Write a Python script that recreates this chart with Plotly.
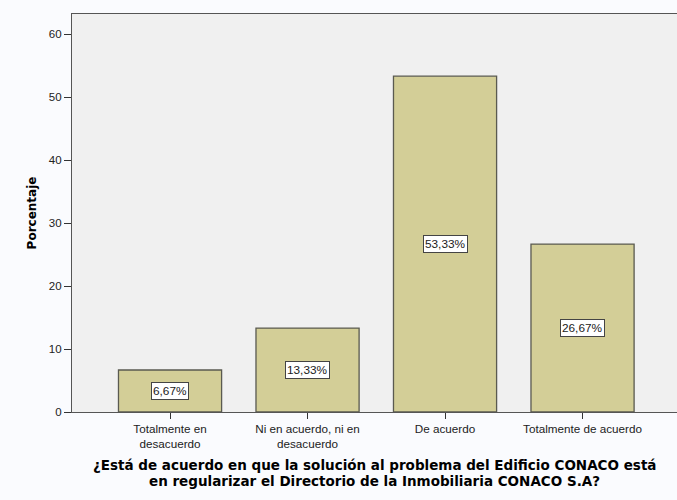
import plotly.graph_objects as go

# Response categories and their percentages
categories = [
    "Totalmente en<br>desacuerdo",
    "Ni en acuerdo, ni en<br>desacuerdo",
    "De acuerdo",
    "Totalmente de acuerdo",
]
percentages = [6.67, 13.33, 53.33, 26.67]
labels = ["6,67%", "13,33%", "53,33%", "26,67%"]
y_ticks = [0, 10, 20, 30, 40, 50, 60]
x_title = [
    "¿Está de acuerdo en que la solución al problema del Edificio CONACO está",
    "en regularizar el Directorio de la Inmobiliaria CONACO S.A?",
]

FONT = "Liberation Sans, Arial, sans-serif"
BOLD_FONT = "DejaVu Sans, Verdana, sans-serif"
BAR_COLOR = "#D3CE97"

fig = go.Figure()
fig.add_trace(go.Bar(
    x=list(range(len(categories))),
    y=percentages,
    marker=dict(color=BAR_COLOR, line=dict(color="#5a5a50", width=1.3)),
    width=0.75,
    hoverinfo="skip",
))

# Value boxes at mid-height of each bar
for i, (v, lab) in enumerate(zip(percentages, labels)):
    fig.add_annotation(
        x=i, y=v / 2, text=lab, showarrow=False,
        font=dict(family=FONT, size=11.8, color="#222"),
        bgcolor="white", bordercolor="#444", borderwidth=1, borderpad=1,
    )

# Two-line bold axis title, lines placed separately for tight spacing
for k, line in enumerate(x_title):
    fig.add_annotation(
        xref="paper", yref="paper", x=0.5, y=-0.133 - k * 0.04,
        yanchor="middle", text=f"<b>{line}</b>", showarrow=False,
        font=dict(family=BOLD_FONT, size=13.5, color="black"),
    )

fig.update_layout(
    width=677, height=500,
    margin=dict(l=72, r=0, t=14, b=88),
    paper_bgcolor="#FAFBFE",
    plot_bgcolor="#F0F0F0",
    showlegend=False,
    font=dict(family=FONT, size=11, color="#222"),
)
fig.update_xaxes(
    range=[-0.713, 3.687],
    tickvals=list(range(len(categories))),
    ticktext=categories,
    ticks="outside", ticklen=6, tickcolor="#333", tickwidth=1,
    showline=True, linecolor="#555", linewidth=1.3, mirror=True,
    showgrid=False, zeroline=False, automargin=False,
    tickfont=dict(family=FONT, size=11.7, color="#222"),
)
fig.update_yaxes(
    range=[0, 63.2],
    tickvals=y_ticks,
    ticks="outside", ticklen=7, tickcolor="#333", tickwidth=1,
    showline=True, linecolor="#555", linewidth=1.3,
    showgrid=False, zeroline=False, automargin=False,
    title=dict(text="<b>Porcentaje</b>", font=dict(family=BOLD_FONT, size=12, color="black"), standoff=9),
    tickfont=dict(family=FONT, size=11.5, color="#222"),
)

fig.write_html(
    "out.html",
    config={"displayModeBar": False},
    post_script="document.body.style.margin='0';",
)
